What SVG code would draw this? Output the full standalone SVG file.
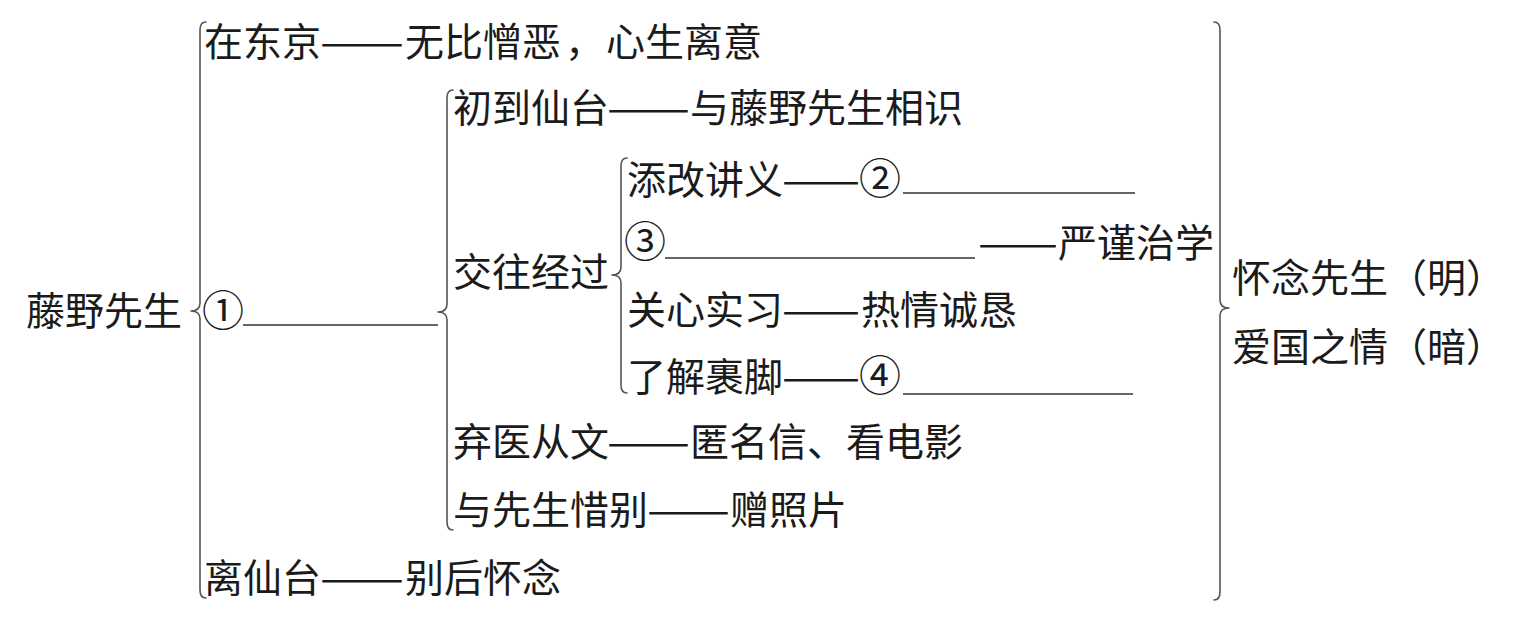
<svg xmlns="http://www.w3.org/2000/svg" width="1514" height="625" viewBox="0 0 1514 625">
<style>
text{font-family:"Noto Sans CJK SC","Noto Sans CJK JP",sans-serif;font-size:39px;fill:#1b1b1b}
.num{font-size:42px}
.br{fill:none;stroke:#555;stroke-width:1.6;stroke-linecap:round;stroke-linejoin:round}
.ul{stroke:#333;stroke-width:1.6}
</style>
<rect width="1514" height="625" fill="#fff"/>
<g id="connectors">
<path class="br" d="M206,22 Q200,22 200,30 L200,303 Q200,311 191,311 Q200,311 200,319 L200,590 Q200,598 206,598"/>
<path class="br" d="M453,90 Q447,90 447,98 L447,304 Q447,312 438,312 Q447,312 447,320 L447,522 Q447,530 453,530"/>
<path class="br" d="M627,158 Q621,158 621,166 L621,267 Q621,275 612,275 Q621,275 621,283 L621,385 Q621,393 627,393"/>
<path class="br" d="M1214,22 Q1220,22 1220,30 L1220,300 Q1220,308 1229,308 Q1220,308 1220,316 L1220,592 Q1220,600 1214,600"/>
</g>
<g id="root"><text x="26" y="325">藤野先生</text></g>
<g id="dongjing"><text y="56"><tspan x="204">在东京</tspan><tspan x="405">无比憎恶</tspan><tspan x="565">，</tspan><tspan x="606">心生离意</tspan></text><text x="320" y="56" textLength="84" lengthAdjust="spacingAndGlyphs">——</text></g>
<g id="blank1"><text class="num" x="202" y="326">①</text><line class="ul" x1="243" y1="325" x2="438" y2="325"/></g>
<g id="chudao"><text y="122"><tspan x="453">初到仙台</tspan><tspan x="690">与藤野先生相识</tspan></text><text x="607" y="122" textLength="83" lengthAdjust="spacingAndGlyphs">——</text></g>
<g id="jiaowang"><text x="453" y="286">交往经过</text></g>
<g id="tiangai"><text y="194"><tspan x="627">添改讲义</tspan><tspan class="num" x="859">②</tspan></text><text x="782" y="194" textLength="78" lengthAdjust="spacingAndGlyphs">——</text><line class="ul" x1="903" y1="193" x2="1135" y2="193"/></g>
<g id="blank3"><text y="257"><tspan class="num" x="624">③</tspan><tspan x="1058">严谨治学</tspan></text><text x="978" y="257" textLength="80" lengthAdjust="spacingAndGlyphs">——</text><line class="ul" x1="665" y1="258" x2="975" y2="258"/></g>
<g id="guanxin"><text y="324"><tspan x="627">关心实习</tspan><tspan x="861">热情诚恳</tspan></text><text x="782" y="324" textLength="78" lengthAdjust="spacingAndGlyphs">——</text></g>
<g id="liaojie"><text y="391"><tspan x="627">了解裹脚</tspan><tspan class="num" x="859">④</tspan></text><text x="782" y="391" textLength="78" lengthAdjust="spacingAndGlyphs">——</text><line class="ul" x1="903" y1="394" x2="1133" y2="394"/></g>
<g id="qiyi"><text y="456"><tspan x="453">弃医从文</tspan><tspan x="690">匿名信、看电影</tspan></text><text x="607" y="456" textLength="83" lengthAdjust="spacingAndGlyphs">——</text></g>
<g id="xibie"><text y="524"><tspan x="453">与先生惜别</tspan><tspan x="730">赠照片</tspan></text><text x="647" y="524" textLength="83" lengthAdjust="spacingAndGlyphs">——</text></g>
<g id="likai"><text y="592"><tspan x="204">离仙台</tspan><tspan x="405">别后怀念</tspan></text><text x="320" y="592" textLength="84" lengthAdjust="spacingAndGlyphs">——</text></g>
<g id="huainian"><text x="1232" y="292">怀念先生（明）</text></g>
<g id="aiguo"><text x="1232" y="361">爱国之情（暗）</text></g>
</svg>
